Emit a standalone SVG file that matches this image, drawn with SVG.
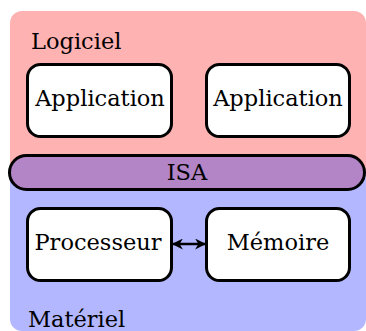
<svg xmlns="http://www.w3.org/2000/svg" width="366" height="331" viewBox="0 0 366 331">
<style>
text{font-family:"DejaVu Serif","Liberation Serif",serif;font-size:22.5px;fill:#000}
.box{fill:#fff;stroke:#000;stroke-width:3}
.mid{text-anchor:middle}
</style>
<defs>
<marker id="ah" viewBox="0 0 10 10" refX="9" refY="5" markerWidth="11" markerHeight="11" markerUnits="userSpaceOnUse" orient="auto-start-reverse">
<path d="M0,0 L10,5 L0,10 L3,5 z" fill="#000"/>
</marker>
</defs>
<g id="logiciel">
<rect x="10" y="11" width="356" height="170" rx="12" fill="#ffb2b2"/>
<text x="31" y="49">Logiciel</text>
</g>
<g id="materiel">
<rect x="10" y="165" width="356" height="166" rx="12" fill="#b2b7ff"/>
<text x="28" y="327">Matériel</text>
</g>
<g id="isa">
<rect x="9.5" y="155.5" width="355" height="34" rx="17" fill="#b385c7" stroke="#000" stroke-width="3"/>
<text class="mid" x="187" y="180">ISA</text>
</g>
<g id="app1">
<rect class="box" x="27.5" y="64.5" width="144" height="72" rx="13"/>
<text class="mid" x="100" y="106">Application</text>
</g>
<g id="app2">
<rect class="box" x="206.5" y="64.5" width="143" height="72" rx="13"/>
<text class="mid" x="278" y="106">Application</text>
</g>
<g id="processeur">
<rect class="box" x="27.5" y="208.5" width="144" height="72" rx="13"/>
<text class="mid" x="98" y="250">Processeur</text>
</g>
<g id="memoire">
<rect class="box" x="206.5" y="208.5" width="143" height="72" rx="13"/>
<text class="mid" x="278" y="250">Mémoire</text>
</g>
<g id="connectors">
<line x1="173" y1="244" x2="205" y2="244" stroke="#000" stroke-width="2.5" marker-start="url(#ah)" marker-end="url(#ah)"/>
</g>
</svg>
